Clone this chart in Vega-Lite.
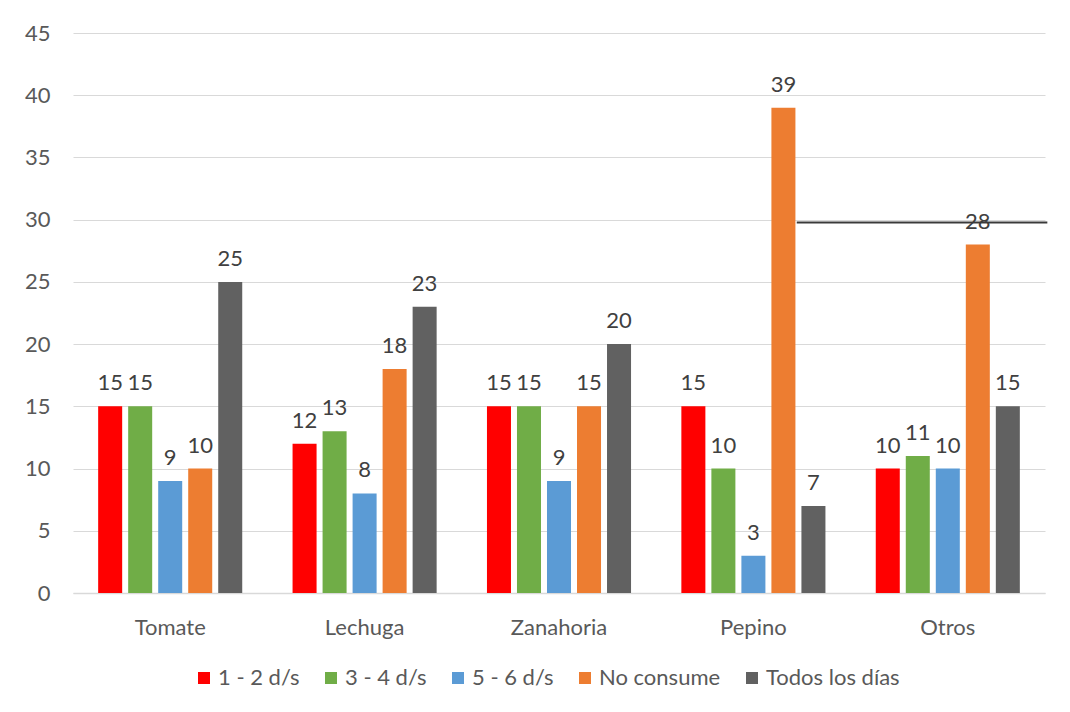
{
  "$schema": "https://vega.github.io/schema/vega-lite/v6.json",
  "width": 972,
  "height": 560,
  "autosize": "none",
  "padding": {"left": 73, "top": 33, "right": 25, "bottom": 119},
  "background": "white",
  "config": {
    "font": "Lato",
    "view": {"stroke": null},
    "axis": {"labelFont": "Lato", "labelFontSize": 22, "labelColor": "#595959", "title": null},
    "axisY": {"gridColor": "#d9d9d9", "gridWidth": 1, "domain": false, "ticks": false, "tickSize": 0, "labelPadding": 23},
    "axisX": {"grid": false, "ticks": false, "tickSize": 0, "domainColor": "#d9d9d9", "domainWidth": 1.5, "labelAngle": 0, "labelBaseline": "alphabetic", "labelPadding": 41}
  },
  "datasets": {
    "barras": [
      {"Verdura": "Tomate", "Frecuencia": "1 - 2 d/s", "Valor": 15},
      {"Verdura": "Tomate", "Frecuencia": "3 - 4 d/s", "Valor": 15},
      {"Verdura": "Tomate", "Frecuencia": "5 - 6 d/s", "Valor": 9},
      {"Verdura": "Tomate", "Frecuencia": "No consume", "Valor": 10},
      {"Verdura": "Tomate", "Frecuencia": "Todos los días", "Valor": 25},
      {"Verdura": "Lechuga", "Frecuencia": "1 - 2 d/s", "Valor": 12},
      {"Verdura": "Lechuga", "Frecuencia": "3 - 4 d/s", "Valor": 13},
      {"Verdura": "Lechuga", "Frecuencia": "5 - 6 d/s", "Valor": 8},
      {"Verdura": "Lechuga", "Frecuencia": "No consume", "Valor": 18},
      {"Verdura": "Lechuga", "Frecuencia": "Todos los días", "Valor": 23},
      {"Verdura": "Zanahoria", "Frecuencia": "1 - 2 d/s", "Valor": 15},
      {"Verdura": "Zanahoria", "Frecuencia": "3 - 4 d/s", "Valor": 15},
      {"Verdura": "Zanahoria", "Frecuencia": "5 - 6 d/s", "Valor": 9},
      {"Verdura": "Zanahoria", "Frecuencia": "No consume", "Valor": 15},
      {"Verdura": "Zanahoria", "Frecuencia": "Todos los días", "Valor": 20},
      {"Verdura": "Pepino", "Frecuencia": "1 - 2 d/s", "Valor": 15},
      {"Verdura": "Pepino", "Frecuencia": "3 - 4 d/s", "Valor": 10},
      {"Verdura": "Pepino", "Frecuencia": "5 - 6 d/s", "Valor": 3},
      {"Verdura": "Pepino", "Frecuencia": "No consume", "Valor": 39},
      {"Verdura": "Pepino", "Frecuencia": "Todos los días", "Valor": 7},
      {"Verdura": "Otros", "Frecuencia": "1 - 2 d/s", "Valor": 10},
      {"Verdura": "Otros", "Frecuencia": "3 - 4 d/s", "Valor": 11},
      {"Verdura": "Otros", "Frecuencia": "5 - 6 d/s", "Valor": 10},
      {"Verdura": "Otros", "Frecuencia": "No consume", "Valor": 28},
      {"Verdura": "Otros", "Frecuencia": "Todos los días", "Valor": 15}
    ],
    "linea": [
      {"inicio": 3.723, "fin": 5.012, "nivel": 29.77}
    ]
  },
  "layer": [
    {
      "data": {"name": "barras"},
      "mark": {"type": "bar"},
      "encoding": {
        "x": {
          "field": "Verdura", "type": "nominal",
          "sort": ["Tomate", "Lechuga", "Zanahoria", "Pepino", "Otros"],
          "scale": {"type": "band", "paddingInner": 0.228, "paddingOuter": 0.114}
        },
        "xOffset": {
          "field": "Frecuencia", "type": "nominal",
          "sort": ["1 - 2 d/s", "3 - 4 d/s", "5 - 6 d/s", "No consume", "Todos los días"],
          "scale": {"type": "band", "paddingInner": 0.2, "paddingOuter": 0.1}
        },
        "y": {
          "field": "Valor", "type": "quantitative",
          "scale": {"domain": [0, 45], "nice": false},
          "axis": {"values": [0, 5, 10, 15, 20, 25, 30, 35, 40, 45]}
        },
        "color": {
          "field": "Frecuencia", "type": "nominal",
          "sort": ["1 - 2 d/s", "3 - 4 d/s", "5 - 6 d/s", "No consume", "Todos los días"],
          "scale": {
            "domain": ["1 - 2 d/s", "3 - 4 d/s", "5 - 6 d/s", "No consume", "Todos los días"],
            "range": ["#ff0000", "#70ad47", "#5b9bd5", "#ed7d31", "#616161"]
          },
          "legend": {
            "orient": "none", "legendX": 120, "legendY": 634,
            "direction": "horizontal", "columns": 5, "title": null,
            "symbolType": "square", "symbolSize": 144, "symbolStrokeWidth": 0,
            "labelFont": "Lato", "labelFontSize": 22, "labelColor": "#595959",
            "labelOffset": 3, "columnPadding": 20
          }
        }
      }
    },
    {
      "data": {"name": "barras"},
      "mark": {"type": "text", "baseline": "alphabetic", "dy": -16, "fontSize": 22, "color": "#404040", "font": "Lato"},
      "encoding": {
        "x": {
          "field": "Verdura", "type": "nominal",
          "sort": ["Tomate", "Lechuga", "Zanahoria", "Pepino", "Otros"],
          "scale": {"type": "band", "paddingInner": 0.228, "paddingOuter": 0.114},
          "axis": null
        },
        "xOffset": {
          "field": "Frecuencia", "type": "nominal",
          "sort": ["1 - 2 d/s", "3 - 4 d/s", "5 - 6 d/s", "No consume", "Todos los días"],
          "scale": {"type": "band", "paddingInner": 0.2, "paddingOuter": 0.1}
        },
        "y": {"field": "Valor", "type": "quantitative"},
        "text": {"field": "Valor", "type": "quantitative"}
      }
    },
    {
      "data": {"name": "linea"},
      "mark": {"type": "rule", "color": "#3a3a3a", "strokeWidth": 2},
      "encoding": {
        "x": {"field": "inicio", "type": "quantitative", "scale": {"domain": [0, 5], "nice": false, "zero": false}, "axis": null},
        "x2": {"field": "fin"},
        "y": {"field": "nivel", "type": "quantitative"}
      }
    }
  ],
  "resolve": {"scale": {"x": "independent", "xOffset": "independent"}}
}
